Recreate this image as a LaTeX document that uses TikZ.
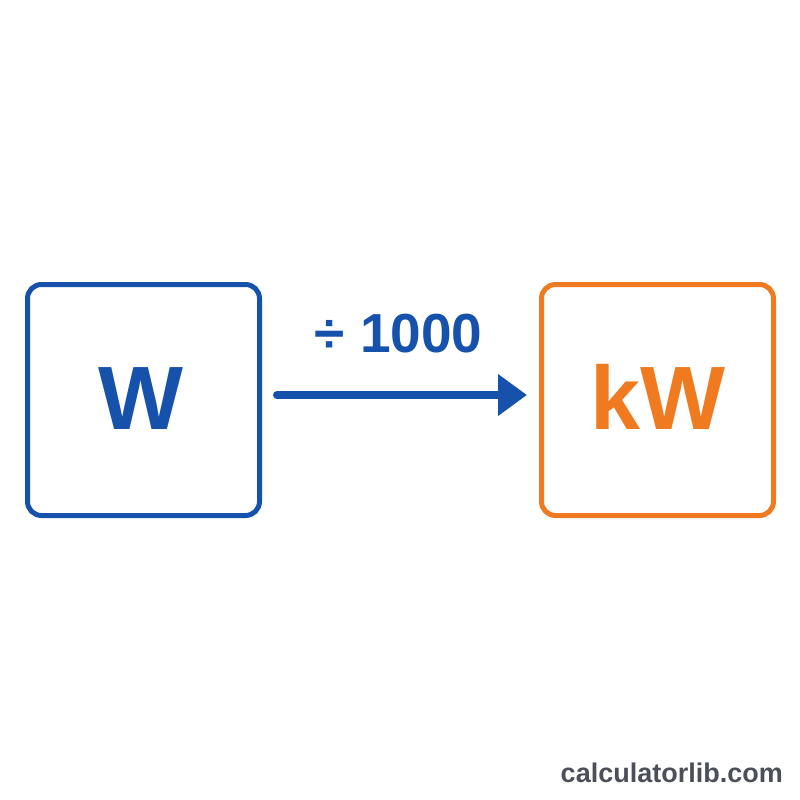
\documentclass[tikz,border=0pt]{standalone}
\usepackage{fontspec}
\setmainfont{Liberation Sans}
\usetikzlibrary{arrows.meta}
\definecolor{wblue}{RGB}{22,82,172}
\definecolor{korange}{RGB}{240,122,32}
\definecolor{mark}{RGB}{74,79,90}
\tikzset{
  unitbox/.style={draw, line width=5pt, rounded corners=14pt, minimum width=232pt, minimum height=231pt, inner sep=0pt},
  unittext/.style={font=\bfseries\fontsize{90}{90}\selectfont, anchor=base, inner sep=0pt},
  convarrow/.style={draw=wblue, line width=8pt, line cap=round, -{Triangle[length=29pt,width=40pt]}},
}
\begin{document}
\begin{tikzpicture}[x=1pt,y=-1pt]
\useasboundingbox (0,0) rectangle (800,800);
\fill[white] (0,0) rectangle (800,800);
\node[unitbox, draw=wblue] (wbox) at (143.5,400) {};
\node[unitbox, draw=korange] (kwbox) at (657.5,400) {};
\node[unittext, text=wblue] (wlabel) at (141,429) {W};
\node[unittext, text=korange] (kwlabel) at (658,429) {kW};
\draw[convarrow, shorten <=15pt, shorten >=12pt] ([yshift=5pt]wbox.east) -- ([yshift=5pt]kwbox.west);
\node[font=\bfseries\fontsize{55}{55}\selectfont, text=wblue, anchor=base, inner sep=0pt] (factor) at (398.5,352) {÷ 1000};
\node[font=\bfseries\fontsize{27}{27}\selectfont, text=mark, anchor=base east, inner sep=0pt] (site) at (783,782) {calculatorlib.com};
\end{tikzpicture}
\end{document}
